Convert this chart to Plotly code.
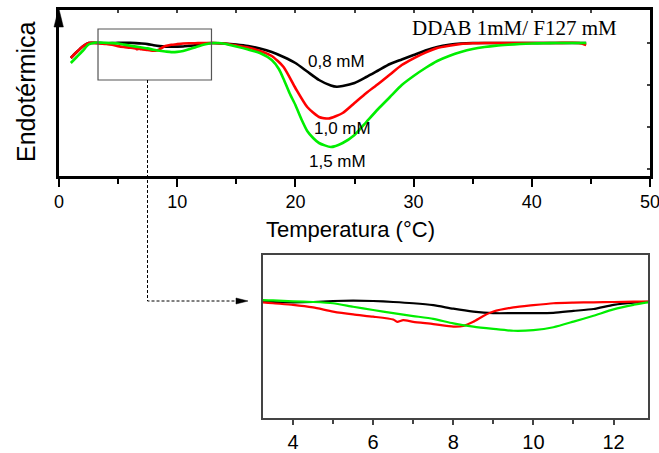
import plotly.graph_objects as go

W, H = 659, 453

# ---------------- data (arbitrary heat-flow units, baseline = 0) ----------------
black_x = [1.0, 1.5, 2.0, 2.5, 3.0, 3.5, 4.0, 4.5, 5.0, 5.5, 6.0, 6.5, 7.0, 7.5, 8.0, 8.5,
           9.0, 9.5, 10.0, 10.5, 11.0, 11.5, 12.0, 12.5, 13.0, 14, 15, 16, 17, 18, 19, 20,
           21, 22, 23, 23.5, 24, 25, 26, 27, 28, 29, 30, 31, 32, 33, 34, 35, 36, 38, 40, 42, 44.6]
black_y = [-15, -9, -3.5, 0, 0.1, -0.1, -0.2, -0.1, 0.2, 0.3, 0.2, -0.1, -0.5, -1.1, -2.2, -3.1,
           -3.6, -3.6, -3.6, -3.5, -2.9, -2.3, -1.0, -0.3, 0, -0.5, -1.5, -3, -5.5, -9, -14, -20,
           -28.5, -37, -42.5, -43.7, -43, -40, -34, -27.5, -21, -16.5, -12, -7.5, -4, -1.8, -0.5,
           0, 0, 0, 0, 0, 0]

red_x = [1.0, 1.5, 2.0, 2.5, 3.0, 3.25, 3.5, 4.0, 4.5, 5.0, 5.5, 6.0, 6.5, 6.6, 6.75, 7.0, 7.5,
         8.0, 8.25, 8.5, 8.75, 9.0, 9.5, 10.0, 10.5, 11.0, 11.5, 12.0, 12.5, 13.0, 14, 15, 16,
         17, 18, 19, 20, 21, 22, 22.8, 24, 25, 26, 27, 28, 29, 30, 31, 32, 33, 34, 35, 36, 38,
         40, 42, 44, 44.6]
red_y = [-15, -9, -3.5, 0, 0.1, -0.2, -0.5, -1.0, -1.8, -3.1, -4.0, -4.7, -5.6, -6.3, -5.8, -6.3,
         -7.0, -7.8, -7.6, -6.3, -4.5, -3.1, -1.8, -1.1, -0.5, -0.3, -0.2, -0.1, 0, 0, -0.5,
         -2.5, -4.5, -8, -13, -24, -45, -64, -74, -75.5, -70, -60, -50, -41, -31.5, -22, -15.3,
         -9.6, -5, -2.7, -1, -0.3, 0, 0, 0, 0, 0, -2]

green_x = [1.0, 1.5, 2.0, 2.5, 3.0, 3.25, 3.5, 4.0, 4.5, 5.0, 5.5, 6.0, 6.5, 7.0, 7.5, 8.0, 8.5,
           9.0, 9.5, 10.0, 10.5, 11.0, 11.5, 12.0, 12.5, 12.86, 13.5, 14, 15, 16, 17, 18, 18.6,
           19, 19.5, 20, 20.5, 21, 21.5, 22, 23, 24, 25, 26, 27, 28, 29, 30, 31, 32, 33, 34, 35,
           36, 37, 38, 39, 40, 41, 42, 44, 44.6]
green_y = [-20, -14, -8, -1.5, 0.3, 0.5, 0.4, 0.1, -0.1, -0.5, -1.6, -2.6, -3.6, -4.5, -5.4, -6.8,
           -7.8, -8.5, -9.1, -8.9, -8.0, -6.25, -4.4, -2.4, -1.0, -0.2, 0, -0.8, -3.5, -6.5, -10,
           -17, -26, -36, -50, -62, -76, -88, -95, -100, -104, -100, -92, -79, -66, -54, -42, -33,
           -25, -18, -13, -9, -6, -4, -2.6, -1.7, -1, -0.5, -0.2, 0, 0, 0]

series_names = ["0,8 mM", "1,0 mM", "1,5 mM"]
series_colors = ["#000000", "#ff0000", "#00ee00"]
series_x = [black_x, red_x, green_x]
series_y = [black_y, red_y, green_y]

label_x = [23.5, 24.0, 23.6]
label_y = [-18, -85, -118.5]

main_xrange = [0, 50]
main_yrange = [-133, 33]
zoom_x = [3.3, 12.9]          # zoom box (main axes)
zoom_y = [-37, 14]
inset_xrange = [3.25, 12.86]
inset_yrange = [-36.4, 14.6]
main_xticks = [0, 10, 20, 30, 40, 50]
inset_xticks = [4, 6, 8, 10, 12]

def px(v):
    return v / W

def py(v):
    return 1 - v / H

fig = go.Figure()
for nm, c, xs, ys in zip(series_names, series_colors, series_x, series_y):
    fig.add_trace(go.Scatter(x=xs, y=ys, mode="lines", name=nm, showlegend=False,
                             line=dict(color=c, width=2.6, shape="spline", smoothing=0.6),
                             xaxis="x", yaxis="y", hoverinfo="skip"))
for nm, c, xs, ys in zip(series_names, series_colors, series_x, series_y):
    fig.add_trace(go.Scatter(x=xs, y=ys, mode="lines", name=nm, showlegend=False,
                             line=dict(color=c, width=2.2, shape="spline", smoothing=0.6),
                             xaxis="x2", yaxis="y3", hoverinfo="skip"))
# helper traces so the overlay frame axes get drawn
fig.add_trace(go.Scatter(x=[None], y=[None], xaxis="x3", yaxis="y", showlegend=False))
fig.add_trace(go.Scatter(x=[None], y=[None], xaxis="x", yaxis="y2", showlegend=False))

FONT = "Liberation Sans, Arial, sans-serif"
main_xdom = [px(59), px(650)]
main_ydom = [py(176), py(10)]
inset_xdom = [px(263), px(648)]
inset_ydom = [py(418), py(255)]

fig.update_layout(
    width=W, height=H, margin=dict(l=0, r=0, t=0, b=0, autoexpand=False),
    paper_bgcolor="white", plot_bgcolor="white", showlegend=False,
    font=dict(family=FONT, color="black"),
    xaxis=dict(domain=main_xdom, range=main_xrange, anchor="y", showline=True,
               linecolor="black", linewidth=2.5, showgrid=False, zeroline=False,
               ticks="outside", ticklen=8, tickwidth=2, tickcolor="black",
               tickvals=main_xticks, tickfont=dict(size=18, family=FONT),
               ticklabeloverflow="allow", automargin=False,
               minor=dict(dtick=5, tick0=0, ticks="outside", ticklen=5, tickwidth=2,
                          tickcolor="black", showgrid=False)),
    yaxis=dict(domain=main_ydom, range=main_yrange, anchor="x", showline=True,
               linecolor="black", linewidth=2.5, showgrid=False, zeroline=False,
               showticklabels=False, ticks="", automargin=False),
    xaxis3=dict(overlaying="x", side="top", anchor="y", range=main_xrange,
                showline=True, linecolor="black", linewidth=2.5, showgrid=False,
                zeroline=False, ticks="inside", ticklen=3, tickwidth=1.5, dtick=5, tick0=0,
                showticklabels=False, automargin=False),
    yaxis2=dict(overlaying="y", side="right", anchor="x", range=main_yrange,
                showline=True, linecolor="black", linewidth=2.5, showgrid=False,
                zeroline=False, ticks="inside", ticklen=3, tickwidth=1.5, tick0=0, dtick=42,
                showticklabels=False, automargin=False),
    xaxis2=dict(domain=inset_xdom, range=inset_xrange, anchor="y3", showline=True,
                mirror=True, linecolor="#444444", linewidth=1.5, showgrid=False,
                zeroline=False, ticks="outside", ticklen=5, tickwidth=1.5,
                tickcolor="#444444", tickvals=inset_xticks,
                tickfont=dict(size=20, family=FONT), ticklabeloverflow="allow",
                automargin=False,
                minor=dict(dtick=1, tick0=0, ticks="outside", ticklen=4, tickwidth=1.5,
                           tickcolor="#444444", showgrid=False)),
    yaxis3=dict(domain=inset_ydom, range=inset_yrange, anchor="x2", showline=True,
                mirror=True, linecolor="#444444", linewidth=1.5, showgrid=False,
                zeroline=False, showticklabels=False, ticks="", automargin=False),
)

# zoom box on the main plot
fig.add_shape(type="rect", xref="x", yref="y", x0=zoom_x[0], x1=zoom_x[1],
              y0=zoom_y[0], y1=zoom_y[1], line=dict(color="#555555", width=1.2),
              fillcolor="rgba(0,0,0,0)")
# dashed connector to the inset
conn_x = 147.5
conn_y = 301
fig.add_shape(type="path", xref="paper", yref="paper",
              path=f"M {px(conn_x)} {py(80)} L {px(conn_x)} {py(conn_y)} L {px(238)} {py(conn_y)}",
              line=dict(color="black", width=1, dash="3px,2px"))
fig.add_shape(type="path", xref="paper", yref="paper",
              path=f"M {px(236)} {py(conn_y-3)} L {px(248)} {py(conn_y)} L {px(236)} {py(conn_y+3)} Z",
              fillcolor="black", line=dict(color="black", width=0.5))
# arrow head on the y axis
fig.add_shape(type="path", xref="paper", yref="paper",
              path=f"M {px(54)} {py(27)} L {px(58.7)} {py(8)} L {px(63.4)} {py(27)} Z",
              fillcolor="black", line=dict(color="black", width=0.5))

# curve labels
for nm, lx, ly in zip(series_names, label_x, label_y):
    fig.add_annotation(x=lx, y=ly, xref="x", yref="y", text=nm, showarrow=False,
                       xanchor="center", yanchor="middle",
                       font=dict(size=17, family=FONT, color="black"))
fig.add_annotation(x=px(514), y=py(28), xref="paper", yref="paper",
                   text="DDAB 1mM/ F127 mM", showarrow=False,
                   xanchor="center", yanchor="middle",
                   font=dict(size=21, family="Liberation Serif, Times New Roman, serif",
                             color="black"))
fig.add_annotation(x=px(350), y=py(229), xref="paper", yref="paper",
                   text="Temperatura (°C)", showarrow=False,
                   xanchor="center", yanchor="middle",
                   font=dict(size=22, family=FONT, color="black"))
fig.add_annotation(x=px(26), y=py(92), xref="paper", yref="paper",
                   text="Endotérmica", showarrow=False, textangle=-90,
                   xanchor="center", yanchor="middle",
                   font=dict(size=25, family=FONT, color="black"))

fig.write_html("out.html")
